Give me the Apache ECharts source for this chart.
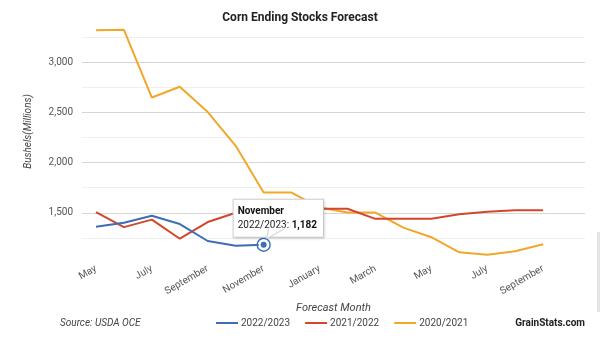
<!DOCTYPE html>
<html>
<head>
<meta charset="utf-8">
<script src="https://cdn.jsdelivr.net/npm/echarts@6/dist/echarts.min.js"></script>
<style>
  html, body { margin: 0; padding: 0; background: #fff; }
  #chart { width: 600px; height: 340px; }
</style>
</head>
<body>
<div id="chart"></div>
<script>
// Forecast month (USDA WASDE release), May through the following October
const months = ['May', 'June', 'July', 'August', 'September', 'October', 'November', 'December',
  'January', 'February', 'March', 'April', 'May', 'June', 'July', 'August', 'September', 'October'];

// Projected corn ending stocks, million bushels
const stocks2223 = [1360, 1400, 1470, 1388, 1219, 1172, 1182];
const stocks2122 = [1507, 1357, 1432, 1242, 1408, 1500, 1493, 1493, 1540, 1540, 1440, 1440, 1440, 1485, 1510, 1525, 1525];
const stocks2021 = [3318, 3323, 2648, 2756, 2503, 2167, 1702, 1702, 1552, 1502, 1502, 1352, 1257, 1107, 1082, 1117, 1187];

const seriesNames = ['2022/2023', '2021/2022', '2020/2021'];
const colors = ['#3e6db5', '#d4462b', '#f1a82a'];

// Highlighted reading on the newest marketing year
const focusIndex = stocks2223.length - 1;

const yMin = 1000, yMax = 3500, yStep = 250;

const FONT = 'Roboto, "Noto Sans", sans-serif';
const fmt = v => v.toLocaleString('en-US');

const chart = echarts.init(document.getElementById('chart'), null, { renderer: 'canvas' });

// Grid lines: bold every 500, faint in between, none at the outer edges
const gridColors = [];
for (let v = yMin; v <= yMax; v += yStep) {
  if (v === yMin || v === yMax) gridColors.push('rgba(0,0,0,0)');
  else gridColors.push(v % 500 === 0 ? '#d6d6d6' : '#efefef');
}

const blueData = stocks2223.map((v, i) => {
  if (i !== focusIndex) return v;
  return {
    value: v,
    symbol: 'circle',
    symbolSize: 8,
    itemStyle: { color: colors[0], borderColor: '#fff', borderWidth: 2 },
    label: {
      show: true,
      position: [-25, -40],
      formatter: p => '{h|' + months[p.dataIndex] + '}\n{s|' + p.seriesName + ': }{v|' + fmt(p.value) + '}',
      backgroundColor: '#fff',
      borderColor: '#cfcfcf',
      borderWidth: 1,
      padding: [5, 6, 4, 4],
      shadowColor: 'rgba(0,0,0,0.12)',
      shadowBlur: 3,
      shadowOffsetX: 1,
      shadowOffsetY: 1,
      rich: {
        h: { fontFamily: FONT, fontSize: 10, fontWeight: 'bold', color: '#111', lineHeight: 14 },
        s: { fontFamily: FONT, fontSize: 10, color: '#222', lineHeight: 14 },
        v: { fontFamily: FONT, fontSize: 10, fontWeight: 'bold', color: '#111', lineHeight: 14 }
      }
    }
  };
});

const option = {
  animation: false,
  backgroundColor: '#fff',
  title: {
    text: 'Corn Ending Stocks Forecast',
    left: 'center',
    top: 7,
    textStyle: { fontFamily: FONT, fontSize: 12, fontWeight: 'bold', color: '#222' }
  },
  legend: {
    data: seriesNames,
    left: 211,
    top: 313,
    icon: 'rect',
    itemWidth: 22,
    itemHeight: 2,
    itemGap: 15,
    textStyle: { fontFamily: FONT, fontSize: 10, color: '#444', padding: [0, 0, 0, -2] }
  },
  grid: { left: 82, right: 15, top: 12, bottom: 77, containLabel: false },
  xAxis: {
    type: 'category',
    data: months,
    boundaryGap: true,
    name: 'Forecast Month',
    nameLocation: 'middle',
    nameGap: 40,
    nameTextStyle: { fontFamily: FONT, fontSize: 11, fontStyle: 'italic', color: '#444' },
    axisLine: { show: false },
    axisTick: { show: false },
    axisLabel: {
      interval: 1,
      rotate: 30,
      margin: 5,
      fontFamily: FONT,
      fontSize: 10,
      color: '#555'
    },
    splitLine: { show: false }
  },
  yAxis: {
    type: 'value',
    min: yMin,
    max: yMax,
    interval: yStep,
    name: 'Bushels(Millions)',
    nameLocation: 'middle',
    nameGap: 49,
    nameTextStyle: { fontFamily: FONT, fontSize: 10, fontStyle: 'italic', color: '#444', padding: [0, 0, 0, 12] },
    axisLine: { show: false },
    axisTick: { show: false },
    axisLabel: {
      margin: 9,
      fontFamily: FONT,
      fontSize: 10,
      color: '#555',
      formatter: v => (v % 500 === 0 && v !== yMin && v !== yMax) ? fmt(v) : ''
    },
    splitLine: { show: true, lineStyle: { color: gridColors, width: 1 } }
  },
  series: [
    {
      name: seriesNames[2], type: 'line', data: stocks2021, z: 2,
      symbol: 'none', lineStyle: { color: colors[2], width: 2 }, itemStyle: { color: colors[2] }
    },
    {
      name: seriesNames[1], type: 'line', data: stocks2122, z: 3,
      symbol: 'none', lineStyle: { color: colors[1], width: 2 }, itemStyle: { color: colors[1] }
    },
    {
      name: seriesNames[0], type: 'line', data: blueData, z: 5,
      symbol: 'none', showSymbol: true,
      lineStyle: { color: colors[0], width: 2 }, itemStyle: { color: colors[0] },
      markPoint: {
        silent: true,
        symbol: 'circle',
        symbolSize: 13,
        itemStyle: { color: 'rgba(0,0,0,0)', borderColor: colors[0], borderWidth: 1.4 },
        label: { show: false },
        data: [{ coord: [focusIndex, stocks2223[focusIndex]] }]
      }
    }
  ]
};

chart.setOption(option);

// Footer texts plus the pointer tail of the callout, joined to the highlighted point
const pt = chart.convertToPixel({ seriesIndex: 2 }, [focusIndex, stocks2223[focusIndex]]);
const baseY = pt[1] - 16;
chart.setOption({
  graphic: [
    {
      id: 'source', type: 'text', left: 60, top: 318,
      style: { text: 'Source: USDA OCE', font: 'italic 10px ' + FONT, fill: '#444' }
    },
    {
      id: 'brand', type: 'text', right: 15, top: 318,
      style: { text: 'GrainStats.com', font: 'bold 10px ' + FONT, fill: '#222' }
    },
    {
      id: 'scroll', type: 'rect', right: 0, top: 232,
      shape: { width: 3, height: 80 },
      style: { fill: '#e4e4e4' }
    },
    {
      id: 'tailFill', type: 'polygon', z: 100,
      shape: { points: [[pt[0] + 5, baseY - 1], [pt[0] + 21, baseY - 1], [pt[0] + 3, pt[1] - 6]] },
      style: { fill: '#fff' }
    },
    {
      id: 'tailEdge', type: 'polyline', z: 101,
      shape: { points: [[pt[0] + 5, baseY], [pt[0] + 3, pt[1] - 6], [pt[0] + 21, baseY]] },
      style: { stroke: '#cfcfcf', lineWidth: 1, fill: null }
    }
  ]
});
</script>
</body>
</html>
